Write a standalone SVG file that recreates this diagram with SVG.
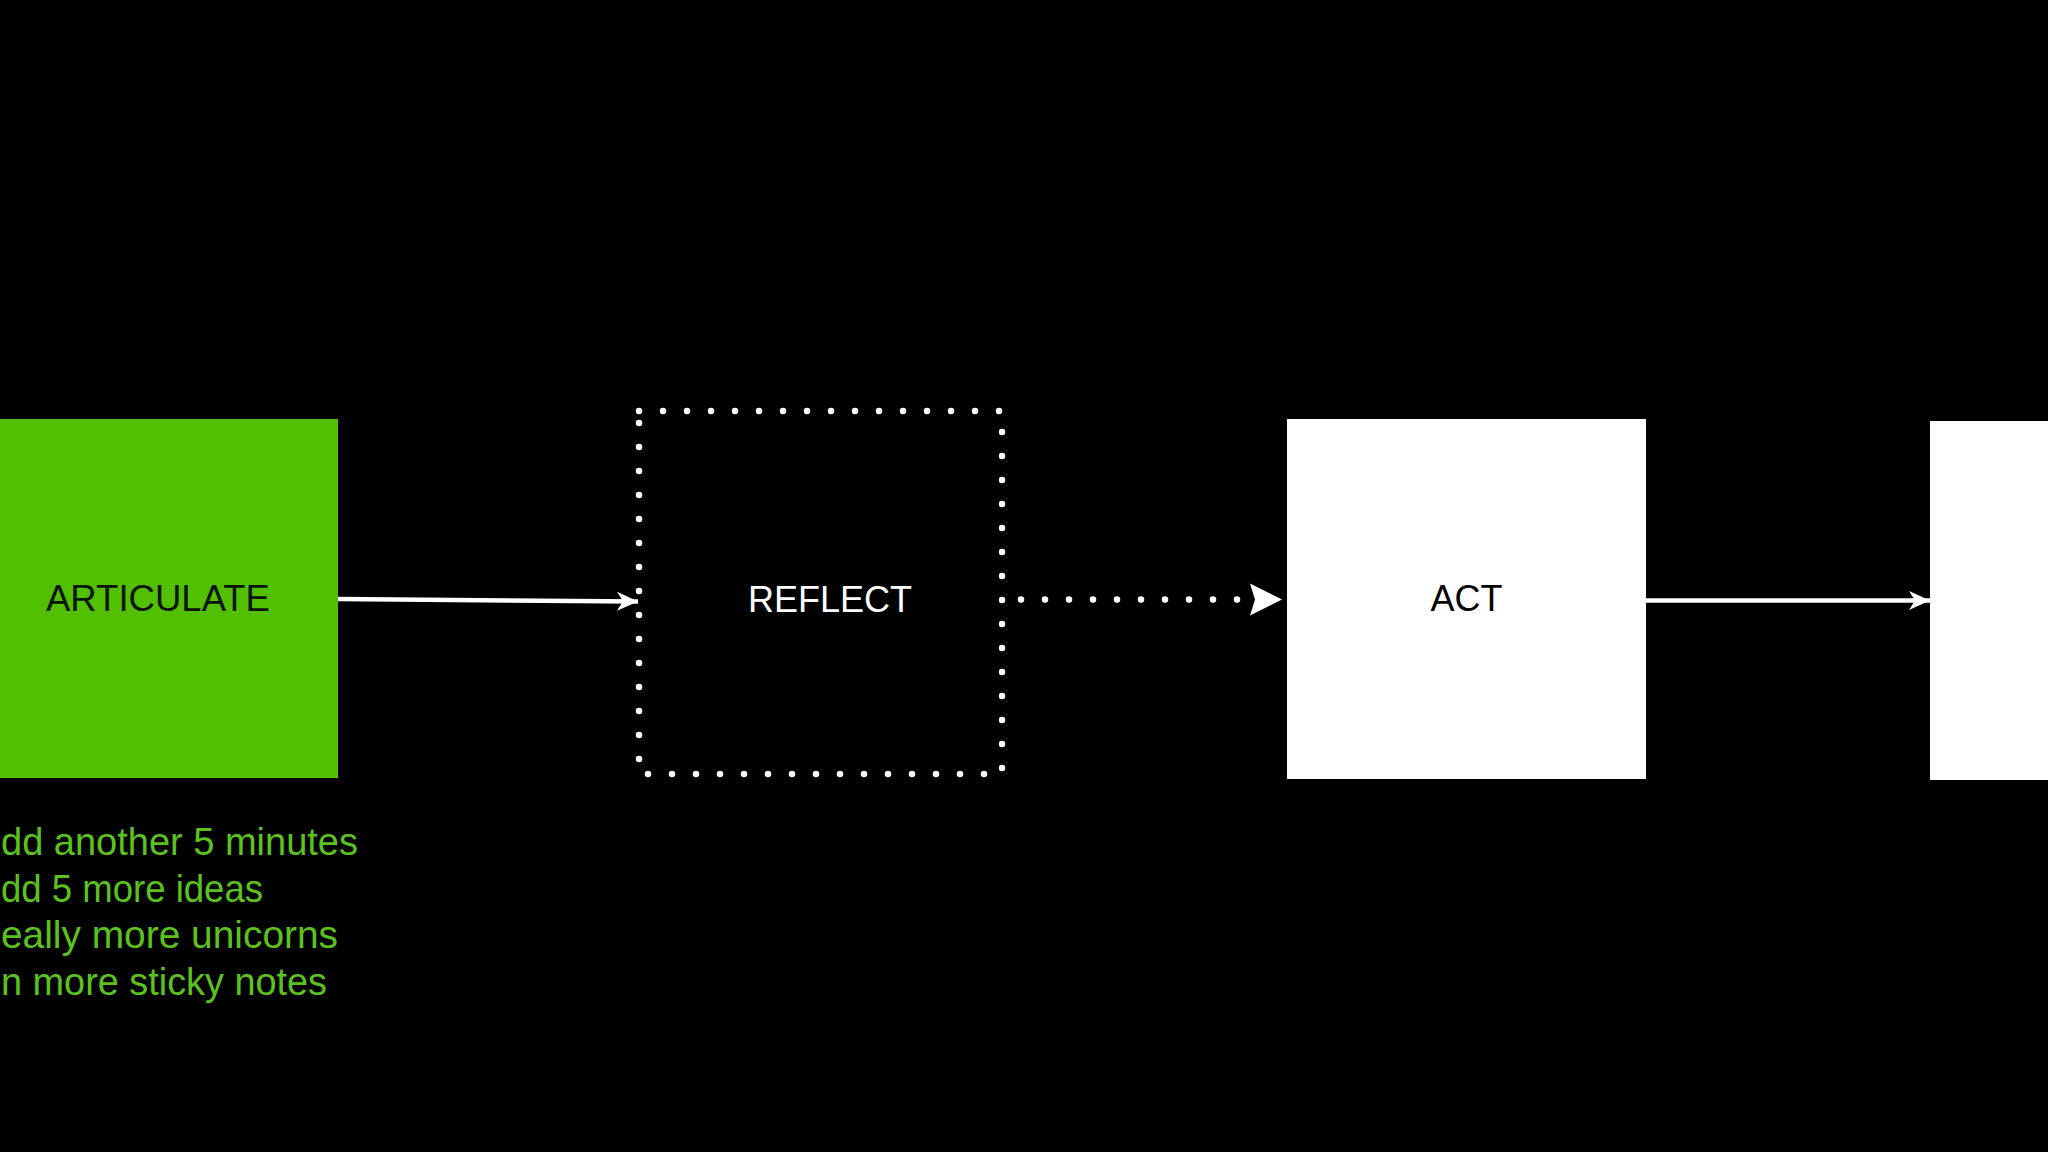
<svg xmlns="http://www.w3.org/2000/svg" width="2048" height="1152" viewBox="0 0 2048 1152">
  <style>
    .lbl { font-family: "Liberation Sans", Arial, sans-serif; font-size: 36px; }
    .note { font-family: "Liberation Sans", Arial, sans-serif; font-size: 38.5px; fill: #5cc21e; }
    .conn { stroke: #ffffff; stroke-width: 4.5; fill: none; }
    .dots { stroke: #ffffff; stroke-width: 6.5; fill: none; stroke-linecap: round; stroke-dasharray: 0 24; }
  </style>
  <defs>
    <marker id="arrowSmall" markerUnits="userSpaceOnUse" markerWidth="24" markerHeight="22" refX="21" refY="11" orient="auto" viewBox="0 0 24 22">
      <path d="M0,1.5 L21,11 L0,20.5 L6,11 Z" fill="#ffffff" stroke="none"/>
    </marker>
    <marker id="arrowBig" markerUnits="userSpaceOnUse" markerWidth="34" markerHeight="34" refX="32" refY="17" orient="auto" viewBox="0 0 34 34">
      <path d="M0,1 L32,17 L0,33 L5,17 Z" fill="#ffffff" stroke="none"/>
    </marker>
  </defs>
  <rect width="2048" height="1152" fill="#000000"/>

  <g id="connectors">
    <line class="conn" x1="338" y1="599" x2="638" y2="601.5" marker-end="url(#arrowSmall)"/>
    <line class="dots" x1="1021" y1="599.5" x2="1282" y2="599.5" marker-end="url(#arrowBig)"/>
    <line class="conn" x1="1646" y1="600.5" x2="1930" y2="600.5" marker-end="url(#arrowSmall)"/>
  </g>

  <g id="node-articulate">
    <rect x="0" y="419" width="338" height="359" fill="#52bf00"/>
    <text class="lbl" x="46" y="611" fill="#071400" textLength="224" lengthAdjust="spacingAndGlyphs">ARTICULATE</text>
  </g>

  <g id="node-reflect">
    <rect class="dots" x="639" y="411" width="363" height="363"/>
    <text class="lbl" x="830" y="612" fill="#ffffff" text-anchor="middle">REFLECT</text>
  </g>

  <g id="node-act">
    <rect x="1287" y="419" width="359" height="360" fill="#ffffff"/>
    <text class="lbl" x="1466.5" y="611" fill="#000000" text-anchor="middle">ACT</text>
  </g>

  <g id="node-next">
    <rect x="1930" y="421" width="130" height="359" fill="#ffffff"/>
  </g>

  <g id="notes">
    <text class="note" x="1" y="855" textLength="357" lengthAdjust="spacingAndGlyphs">dd another 5 minutes</text>
    <text class="note" x="1" y="902" textLength="262" lengthAdjust="spacingAndGlyphs">dd 5 more ideas</text>
    <text class="note" x="1" y="948" textLength="337" lengthAdjust="spacingAndGlyphs">eally more unicorns</text>
    <text class="note" x="1" y="995" textLength="326" lengthAdjust="spacingAndGlyphs">n more sticky notes</text>
  </g>
</svg>
